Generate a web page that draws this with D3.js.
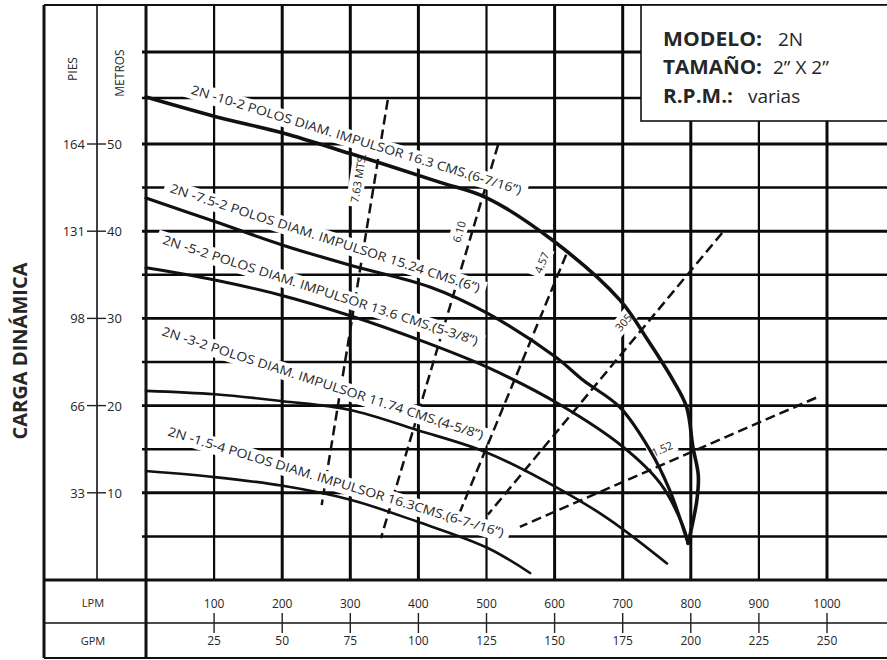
<!DOCTYPE html>
<html>
<head>
<meta charset="utf-8">
<script src="https://cdn.jsdelivr.net/npm/d3@7"></script>
<style>
  body { margin: 0; background: #fff; }
  svg { display: block; }
  text { font-family: 'Open Sans', sans-serif; fill: #262626; }
</style>
</head>
<body>
<div id="chart"></div>
<script>
/* 2N pump curves — carga dinámica vs caudal (LPM / GPM) */

// ---- data read from the sheet ----
const LPM_TICKS = [100, 200, 300, 400, 500, 600, 700, 800, 900, 1000];
const GPM_LABELS = [25, 50, 75, 100, 125, 150, 175, 200, 225, 250];
const METROS_TICKS = [10, 20, 30, 40, 50];
const PIES_LABELS = [33, 66, 98, 131, 164];
const GRID_METROS = [5, 10, 15, 20, 25, 30, 35, 40, 45, 50, 55, 60];

const CURVE_NAMES = [
  '2N -10-2  POLOS DIAM. IMPULSOR 16.3 CMS.(6-7/16”)',
  '2N -7.5-2 POLOS DIAM. IMPULSOR 15.24 CMS.(6”)',
  '2N -5-2 POLOS DIAM. IMPULSOR 13.6 CMS.(5-3/8”)',
  '2N -3-2 POLOS DIAM. IMPULSOR 11.74 CMS.(4-5/8”)',
  '2N -1.5-4 POLOS DIAM. IMPULSOR 16.3CMS.(6-7-/16”)',
];

// [LPM, metros]
const CURVE_10_2 = [[0, 55.1], [101, 53.0], [201, 51.2], [300, 48.9], [432, 45.6], [501, 43.8], [598, 38.9],
  [696, 32.1], [737, 27.5], [774, 22.9], [794, 19.8], [803, 15.3], [811, 12.0], [809, 9.2], [796, 4.2]];
const CURVE_7_5_2 = [[0, 43.8], [101, 41.1], [201, 38.4], [300, 36.1], [417, 33.6], [501, 30.6], [601, 25.6],
  [642, 22.9], [696, 19.8], [740, 14.9], [769, 10.3], [796, 4.2]];
const CURVE_5_2 = [[0, 35.8], [101, 34.4], [201, 32.6], [300, 30.3], [402, 27.5], [501, 24.4], [608, 20.1],
  [700, 15.3], [755, 11.1], [789, 6.1], [796, 4.2]];
const CURVE_3_2 = [[0, 21.7], [101, 21.3], [201, 20.5], [300, 19.5], [398, 17.2], [501, 14.6], [608, 10.4],
  [681, 6.9], [765, 1.9]];
const CURVE_1_5_4 = [[0, 12.5], [101, 11.8], [201, 10.8], [300, 9.2], [398, 6.7], [501, 3.7], [564, 0.8]];

const SUCTION_NAMES = ['7.63 MTS.', '6.10', '4.57', '305', '1.52'];
// [top end, bottom end] as [LPM, metros]
const SUCTION_LINES = [
  [[355, 54.8], [258, 8.6]],
  [[517, 49.9], [345, 4.8]],
  [[617, 37.3], [461, 7.8]],
  [[846, 39.8], [502, 7.5]],
  [[984, 20.9], [549, 6.1]],
];

// ---- layout / style ----
const W = 887, H = 660;
const F = { left: 44, axisDiv: 97, plotL: 146, top: 5, plotB: 580, rowDiv: 623, bottom: 658, right: 887 };

const CURVE_STYLE = [
  { width: 3.6 }, { width: 3.2 }, { width: 3.0 }, { width: 2.7 }, { width: 2.6 },
];
// label baselines, start / end in data units
const CURVE_LABEL_LAYOUT = [
  { from: [65, 55.5], to: [549, 44.2] },
  { from: [34, 44.5], to: [488, 33.0] },
  { from: [23, 38.6], to: [485, 26.9] },
  { from: [22, 28.1], to: [493, 16.1] },
  { from: [31, 16.6], to: [523, 4.9] },
];
// position along the dashed line (0 = top) and offset to its side
const SUCTION_LABEL_LAYOUT = [
  { t: 0.2, off: 17 }, { t: 0.23, off: 13 }, { t: 0.06, off: 20 }, { t: 0.36, off: 19 }, { t: 0.5, off: 15 },
];
const THIN_LPM = [100, 500, 900];

const x = d3.scaleLinear().domain([0, 1000]).range([F.plotL, 827]);
const y = d3.scaleLinear().domain([0, 50, 60]).range([F.plotB, 144, 52]);

const svg = d3.select('#chart').append('svg').attr('width', W).attr('height', H);

const gridL = svg.append('g');
const dashL = svg.append('g');
const boxL = svg.append('g');
const curveL = svg.append('g');
const textL = svg.append('g');
const frameL = svg.append('g');

// ---- grid ----
LPM_TICKS.forEach(v => {
  gridL.append('line')
    .attr('x1', x(v)).attr('x2', x(v)).attr('y1', F.top).attr('y2', F.plotB)
    .attr('stroke', '#0a0a0a').attr('stroke-width', THIN_LPM.includes(v) ? 2.2 : 3);
});
GRID_METROS.forEach(v => {
  gridL.append('line')
    .attr('x1', F.plotL - 4).attr('x2', F.right).attr('y1', y(v)).attr('y2', y(v))
    .attr('stroke', '#0a0a0a').attr('stroke-width', v % 10 === 0 ? 2.9 : 2.5);
});

// ---- frame ----
const hLine = (yy, x1, x2, w) => frameL.append('line').attr('x1', x1).attr('x2', x2).attr('y1', yy).attr('y2', yy)
  .attr('stroke', '#111').attr('stroke-width', w);
const vLine = (xx, y1, y2, w) => frameL.append('line').attr('x1', xx).attr('x2', xx).attr('y1', y1).attr('y2', y2)
  .attr('stroke', '#111').attr('stroke-width', w);
hLine(F.top, F.left, F.right, 2);
hLine(F.plotB, F.left, F.right, 3.2);
hLine(F.rowDiv, F.left, F.right, 1.6);
hLine(F.bottom, F.left, F.right, 2);
vLine(F.left, F.top, F.bottom, 3);
vLine(F.axisDiv, F.top, F.plotB, 1.6);
vLine(F.plotL, F.top, F.bottom, 3);

// ---- suction (dashed) lines ----
SUCTION_LINES.forEach(([top, bot]) => {
  dashL.append('line')
    .attr('x1', x(top[0])).attr('y1', y(top[1]))
    .attr('x2', x(bot[0])).attr('y2', y(bot[1]))
    .attr('stroke', '#111').attr('stroke-width', 2.5)
    .attr('stroke-dasharray', '10 5');
});

// ---- curves ----
const curveData = [CURVE_10_2, CURVE_7_5_2, CURVE_5_2, CURVE_3_2, CURVE_1_5_4];
const line = d3.line().x(d => x(d[0])).y(d => y(d[1])).curve(d3.curveCatmullRom.alpha(0.5));
curveData.forEach((data, i) => {
  curveL.append('path').datum(data).attr('d', line)
    .attr('fill', 'none').attr('stroke', '#111')
    .attr('stroke-width', CURVE_STYLE[i].width)
    .attr('stroke-linecap', 'round').attr('stroke-linejoin', 'round');
});

// ---- curve labels (rotated, on white) ----
CURVE_NAMES.forEach((name, i) => {
  const lay = CURVE_LABEL_LAYOUT[i];
  const x0 = x(lay.from[0]), y0 = y(lay.from[1]);
  const x1 = x(lay.to[0]), y1 = y(lay.to[1]);
  const len = Math.hypot(x1 - x0, y1 - y0);
  const ang = Math.atan2(y1 - y0, x1 - x0) * 180 / Math.PI;
  const tr = `translate(${x0},${y0}) rotate(${ang})`;
  const fs = 12.5;
  boxL.append('rect').attr('transform', tr)
    .attr('x', -6).attr('y', -fs * 1.0).attr('width', len + 12).attr('height', fs * 1.4)
    .attr('fill', '#fff');
  textL.append('text').attr('transform', tr)
    .attr('textLength', len).attr('lengthAdjust', 'spacingAndGlyphs')
    .style('font-size', fs + 'px')
    .text(name);
});

// ---- suction labels ----
SUCTION_NAMES.forEach((name, i) => {
  const [top, bot] = SUCTION_LINES[i];
  const lay = SUCTION_LABEL_LAYOUT[i];
  const tx = x(top[0]), ty = y(top[1]), bx = x(bot[0]), by = y(bot[1]);
  const th = Math.atan2(ty - by, tx - bx);
  const px = tx + lay.t * (bx - tx) + lay.off * Math.sin(th);
  const py = ty + lay.t * (by - ty) - lay.off * Math.cos(th);
  const tr = `translate(${px},${py}) rotate(${th * 180 / Math.PI})`;
  const t = textL.append('text').attr('transform', tr)
    .attr('text-anchor', 'middle').attr('dominant-baseline', 'central')
    .style('font-size', '11px').text(name);
  const w = t.node().getComputedTextLength();
  boxL.append('rect').attr('transform', tr)
    .attr('x', -w / 2 - 4).attr('y', -8).attr('width', w + 8).attr('height', 16)
    .attr('fill', '#fff');
});

// ---- left axis ----
METROS_TICKS.forEach((m, i) => {
  const yy = y(m);
  frameL.append('line').attr('x1', 87).attr('x2', 106).attr('y1', yy).attr('y2', yy)
    .attr('stroke', '#222').attr('stroke-width', 1.4);
  textL.append('text').attr('x', 85).attr('y', yy).attr('text-anchor', 'end')
    .attr('dominant-baseline', 'central').style('font-size', '13px').text(PIES_LABELS[i]);
  textL.append('text').attr('x', 107).attr('y', yy)
    .attr('dominant-baseline', 'central').style('font-size', '13px').text(m);
});
textL.append('text').attr('transform', 'translate(72,69) rotate(-90)')
  .attr('text-anchor', 'middle').attr('dominant-baseline', 'central')
  .style('font-size', '12px').text('PIES');
textL.append('text').attr('transform', 'translate(119,73) rotate(-90)')
  .attr('text-anchor', 'middle').attr('dominant-baseline', 'central')
  .style('font-size', '12px').text('METROS');
textL.append('text').attr('transform', 'translate(20,351) rotate(-90)')
  .attr('text-anchor', 'middle').attr('dominant-baseline', 'central')
  .attr('textLength', 177).attr('lengthAdjust', 'spacingAndGlyphs')
  .style('font-size', '19px').style('font-weight', 700).text('CARGA DINÁMICA');

// ---- bottom axis ----
LPM_TICKS.forEach((v, i) => {
  const xx = x(v);
  frameL.append('line').attr('x1', xx).attr('x2', xx).attr('y1', 613).attr('y2', 633)
    .attr('stroke', '#222').attr('stroke-width', 1.4);
  textL.append('text').attr('x', xx).attr('y', 603).attr('text-anchor', 'middle')
    .attr('dominant-baseline', 'central').style('font-size', '12px').text(v);
  textL.append('text').attr('x', xx).attr('y', 640).attr('text-anchor', 'middle')
    .attr('dominant-baseline', 'central').style('font-size', '12px').text(GPM_LABELS[i]);
});
textL.append('text').attr('x', 93).attr('y', 602).attr('text-anchor', 'middle')
  .attr('dominant-baseline', 'central').style('font-size', '11px').text('LPM');
textL.append('text').attr('x', 93).attr('y', 640).attr('text-anchor', 'middle')
  .attr('dominant-baseline', 'central').style('font-size', '11px').text('GPM');

// ---- info box ----
const box = svg.append('g');
box.append('rect').attr('x', 641).attr('y', F.top).attr('width', 270).attr('height', 116)
  .attr('fill', '#fff').attr('stroke', '#111').attr('stroke-width', 1.6);
const INFO = [
  { k: 'MODELO:', v: '2N', by: 46, kw: 99, vx: 778 },
  { k: 'TAMAÑO:', v: '2” X 2”', by: 74, kw: 99, vx: 773 },
  { k: 'R.P.M.:', v: 'varias', by: 103, kw: 70, vx: 748 },
];
INFO.forEach(r => {
  box.append('text').attr('x', 663).attr('y', r.by)
    .attr('textLength', r.kw).attr('lengthAdjust', 'spacingAndGlyphs')
    .style('font-size', '20px').style('font-weight', 700).text(r.k);
  box.append('text').attr('x', r.vx).attr('y', r.by)
    .style('font-size', '19px').text(r.v);
});
</script>
</body>
</html>
